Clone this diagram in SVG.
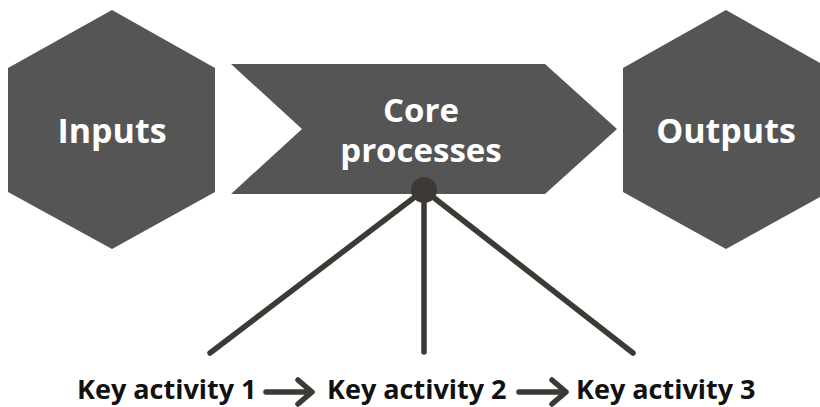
<svg xmlns="http://www.w3.org/2000/svg" width="820" height="407" viewBox="0 0 820 407">
<style>
.shape{fill:#555555}
.label{font-family:"Open Sans","Liberation Sans",sans-serif;font-weight:700;fill:#ffffff;text-anchor:middle}
.act{font-family:"Open Sans","Liberation Sans",sans-serif;font-weight:700;fill:#111111;font-size:27px}
.conn{stroke:#3d3934;stroke-width:5.5;stroke-linecap:round;fill:none}
.arrow{stroke:#3d3934;stroke-width:5.5;stroke-linecap:round;stroke-linejoin:round;fill:none}
</style>
<rect width="820" height="407" fill="#ffffff"/>
<g id="inputs">
<polygon class="shape" points="112,10 215,68 215,192 112,249 8,192 8,68"/>
<text class="label" x="112" y="143" font-size="34">Inputs</text>
</g>
<g id="core">
<polygon class="shape" points="231,64 545,64 617,129 545,194 231,194 302,129"/>
<text class="label" x="421" y="122" font-size="33">Core</text>
<text class="label" x="421" y="162" font-size="33">processes</text>
</g>
<g id="outputs">
<polygon class="shape" points="726,10 829,68 829,192 726,249 623,192 623,68"/>
<text class="label" x="726" y="143" font-size="34">Outputs</text>
</g>
<g id="connectors">
<line class="conn" x1="424" y1="190" x2="210" y2="353"/>
<line class="conn" x1="424" y1="190" x2="424" y2="352"/>
<line class="conn" x1="424" y1="190" x2="633" y2="353"/>
<circle cx="424" cy="190" r="13" fill="#3d3934"/>
<path class="arrow" d="M266,392 H312 M298,380 L312,392 L298,404"/>
<path class="arrow" d="M519,392 H566 M552,380 L566,392 L552,404"/>
</g>
<g id="activity1"><text class="act" x="77" y="399">Key activity 1</text></g>
<g id="activity2"><text class="act" x="327" y="399">Key activity 2</text></g>
<g id="activity3"><text class="act" x="576" y="399">Key activity 3</text></g>
</svg>
